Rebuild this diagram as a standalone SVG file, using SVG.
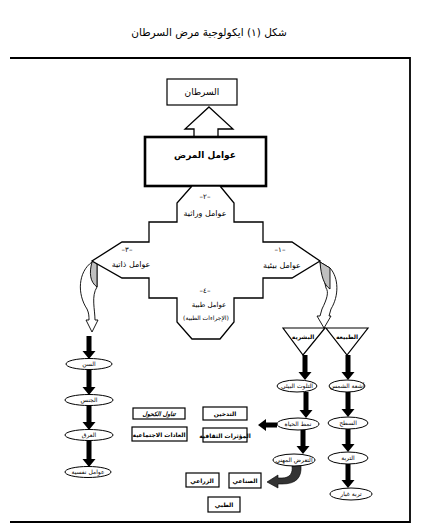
<svg xmlns="http://www.w3.org/2000/svg" width="429" height="532" viewBox="0 0 429 532">
<style>
text{font-family:"DejaVu Sans","Liberation Sans",sans-serif;fill:#000;text-anchor:middle;direction:rtl;unicode-bidi:embed}
.t9{font-size:9px}
.t8{font-size:8px}
.t7{font-size:7px}
.t6{font-size:6px}
.b{font-weight:bold}
.ln{fill:none;stroke:#000;stroke-width:1.2}
.box{fill:#fff;stroke:#000;stroke-width:1.2}
.ell{fill:#fff;stroke:#000;stroke-width:1}
.arr{fill:#000}
</style>
<rect width="429" height="532" fill="#fff"/>
<text x="209" y="36" style="font-size:10.5px">شكل (١) ايكولوجية مرض السرطان</text>
<g id="frame">
<path d="M10 58 H410 V522 H10" fill="none" stroke="#000" stroke-width="1.8"/>
</g>
<g id="connectors">
<polygon points="209,107 233,129 218,129 218,137 194,137 194,129 185,129" fill="#fff" stroke="#000" stroke-width="1.3"/>
<path d="M92 262 C78 272,77 294,87 309 C89 313,89 317,89 320 L86 320 L92 332 L98 320 L95 320 C95 310,91 296,97 287 L97 259 Z" fill="#fff" stroke="#000" stroke-width="0.9"/>
<path d="M92 262 C89 273,90 282,97 287 L97 259 Z" fill="#c0c0c0" stroke="#000" stroke-width="0.9"/>
<path d="M320 262 L330 268 C339 278,339 296,331 309 L329 316 L331 316 L324 328 L317 316 L320 316 L322 309 C327 299,329 292,326 288 Z" fill="#fff" stroke="#000" stroke-width="0.9"/>
<path d="M320 262 L330 268 L330 289 C324 285,321 276,320 262 Z" fill="#c0c0c0" stroke="#000" stroke-width="0.9"/>
<polygon class="arr" points="86.5,336 91.5,336 91.5,351 95.5,351 89,359 82.5,351 86.5,351"/>
<polygon class="arr" points="86.5,370 91.5,370 91.5,387 95.5,387 89,395 82.5,387 86.5,387"/>
<polygon class="arr" points="86.5,405 91.5,405 91.5,422 95.5,422 89,430 82.5,422 86.5,422"/>
<polygon class="arr" points="86.5,441 91.5,441 91.5,459 95.5,459 89,467 82.5,459 86.5,459"/>
<polygon class="arr" points="302.5,355 307.5,355 307.5,372 311.5,372 305,380 298.5,372 302.5,372"/>
<polygon class="arr" points="303.5,392 308.5,392 308.5,410 312.5,410 306,418 299.5,410 303.5,410"/>
<polygon class="arr" points="300.5,430 305.5,430 305.5,446 309.5,446 303,454 296.5,446 300.5,446"/>
<polygon class="arr" points="345.5,355 350.5,355 350.5,372 354.5,372 348,380 341.5,372 345.5,372"/>
<polygon class="arr" points="345.5,392 350.5,392 350.5,409 354.5,409 348,417 341.5,409 345.5,409"/>
<polygon class="arr" points="345.5,429 350.5,429 350.5,444 354.5,444 348,452 341.5,444 345.5,444"/>
<polygon class="arr" points="345.5,464 350.5,464 350.5,480 354.5,480 348,488 341.5,480 345.5,480"/>
<polygon class="arr" points="277,422.5 266,422.5 266,419 258,425 266,431 266,427.5 277,427.5"/>
<path d="M292 466 L301 465 C302 478,296 484,282 484 L278 484 L278 488 L267 482 L278 475 L278 478 L282 478 C290 478,293 473,292 466 Z" fill="#333" stroke="#000" stroke-width="0.6"/>
</g>
<g id="n-cancer">
<rect class="box" x="167" y="79" width="70" height="26"/>
<text class="t9" x="202" y="95">السرطان</text>
</g>
<g id="n-factors">
<rect x="145" y="137" width="121" height="49" fill="#fff" stroke="#000" stroke-width="2.6"/>
<text class="t9 b" x="205" y="158">عوامل المرض</text>
</g>
<g id="n-cross">
<polygon points="192,186 220,186 234,203 234,222 263,222 263,242 292,242 320,261 292,278 263,278 263,298 234,298 234,322 220,339 192,339 177,322 177,298 149,298 149,278 122,278 92,261 122,242 149,242 149,222 177,222 177,203" fill="#fff" stroke="#000" stroke-width="1.3"/>
<text class="t7" x="205" y="199">–٢–</text>
<text class="t8" x="205" y="216">عوامل وراثية</text>
<text class="t7" x="127" y="252">–٣–</text>
<text class="t8" x="131" y="267">عوامل ذاتية</text>
<text class="t7" x="280" y="252">–١–</text>
<text class="t8" x="282" y="268">عوامل بيئية</text>
<text class="t7" x="205" y="293">–٤–</text>
<text class="t7" x="209" y="307">عوامل طبية</text>
<text class="t6" x="206" y="320">(الإجراءات الطبية)</text>
</g>
<g id="n-human">
<polygon points="283,328 325,328 303,355" fill="#fff" stroke="#000" stroke-width="1.2"/>
<text class="t6 b" x="303" y="339">البشرية</text>
</g>
<g id="n-nature">
<polygon points="326,328 368,328 347,355" fill="#fff" stroke="#000" stroke-width="1.2"/>
<text class="t6 b" x="347" y="339">الطبيعة</text>
</g>
<g id="n-age"><ellipse class="ell" cx="89" cy="364" rx="23" ry="5.5"/><text class="t6" x="89" y="366">السن</text></g>
<g id="n-sex"><ellipse class="ell" cx="89" cy="400" rx="24" ry="5.5"/><text class="t6" x="89" y="402">الجنس</text></g>
<g id="n-race"><ellipse class="ell" cx="89" cy="435" rx="24" ry="5.5"/><text class="t6" x="89" y="437">العرق</text></g>
<g id="n-psych"><ellipse class="ell" cx="88" cy="472" rx="23" ry="5.5"/><text class="t6" x="88" y="474">عوامل نفسية</text></g>
<g id="n-pollution"><ellipse class="ell" cx="297" cy="386" rx="20" ry="6"/><text class="t6" x="297" y="388">التلوث البيئي</text></g>
<g id="n-sun"><ellipse class="ell" cx="347" cy="386" rx="18" ry="6"/><text class="t6" x="347" y="388">أشعة الشمس</text></g>
<g id="n-life"><ellipse class="ell" cx="298" cy="424" rx="21" ry="6"/><text class="t6" x="298" y="426">نمط الحياة</text></g>
<g id="n-surface"><ellipse class="ell" cx="348" cy="423" rx="20" ry="6"/><text class="t6" x="348" y="425">السطح</text></g>
<g id="n-occ"><ellipse class="ell" cx="294" cy="460" rx="21" ry="6"/><text class="t6" x="294" y="462">التعرض المهني</text></g>
<g id="n-soil"><ellipse class="ell" cx="348" cy="458" rx="20" ry="6"/><text class="t6" x="348" y="460">التربة</text></g>
<g id="n-dust"><ellipse class="ell" cx="351" cy="494" rx="21" ry="6"/><text class="t6" x="351" y="496">تربة غبار</text></g>
<g id="n-alcohol"><rect class="box" x="133" y="408" width="52" height="11"/><text class="t6 b" x="159" y="416" font-style="italic">تناول الكحول</text></g>
<g id="n-smoking"><rect class="box" x="203" y="407" width="44" height="13"/><text class="t6 b" x="225" y="416">التدخين</text></g>
<g id="n-social"><rect class="box" x="132" y="427" width="55" height="14"/><text class="t6 b" x="159" y="437">العادات الاجتماعية</text></g>
<g id="n-culture"><rect class="box" x="203" y="428" width="44" height="14"/><text class="t6 b" x="225" y="438">المؤثرات الثقافية</text></g>
<g id="n-agri"><rect class="box" x="186" y="473" width="33" height="14"/><text class="t6 b" x="202" y="483">الزراعي</text></g>
<g id="n-ind"><rect class="box" x="229" y="473" width="32" height="15"/><text class="t6 b" x="245" y="483">الصناعي</text></g>
<g id="n-med"><rect class="box" x="208" y="497" width="32" height="15"/><text class="t6 b" x="224" y="507">الطبي</text></g>
</svg>
